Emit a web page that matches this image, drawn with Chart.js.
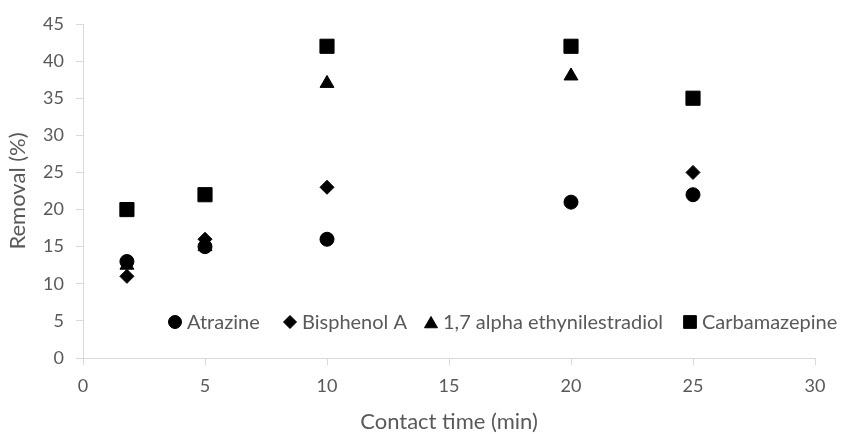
<!DOCTYPE html>
<html>
<head>
<meta charset="utf-8">
<script src="https://cdn.jsdelivr.net/npm/chart.js@4"></script>
<style>
  html, body { margin: 0; padding: 0; background: #fff; }
  #wrap { width: 841px; height: 434px; }
</style>
</head>
<body>
<div id="wrap"><canvas id="myChart" width="841" height="434"></canvas></div>
<script>
// data
const seriesNames = ["Atrazine", "Bisphenol A", "1,7 alpha ethynilestradiol", "Carbamazepine"];
const atrazineX = [1.8, 5, 10, 20, 25];
const atrazineY = [13, 15, 16, 21, 22];
const bisphenolX = [1.8, 5, 10, 25];
const bisphenolY = [11, 16, 23, 25];
const estradiolX = [1.8, 5, 10, 20];
const estradiolY = [12.5, 15, 37, 38];
const carbamazepineX = [1.8, 5, 10, 20, 25];
const carbamazepineY = [20, 22, 42, 42, 35];
const xTicks = [0, 5, 10, 15, 20, 25, 30];
const yTicks = [0, 5, 10, 15, 20, 25, 30, 35, 40, 45];

const grey = "#595959";
const axisGrey = "#d9d9d9";
const fontName = "Lato, 'Liberation Sans', sans-serif";

function pts(xs, ys) {
    let out = [];
    for (let i = 0; i < xs.length; i++) {
        out.push({ x: xs[i], y: ys[i] });
    }
    return out;
}

const styles = ["circle", "rectRot", "triangle", "rect"];
const radii = [7, 7, 8, 10];
const legendRadii = [6.5, 6.5, 7.5, 9];

// legend sits inside the plot, like the excel one
const insideLegend = {
    id: "insideLegend",
    afterDraw(chart) {
        const ctx = chart.ctx;
        const y = 322;
        const items = [175, 290, 431, 690];
        ctx.save();
        ctx.font = "20px " + fontName;
        ctx.textBaseline = "middle";
        for (let i = 0; i < items.length; i++) {
            ctx.fillStyle = "#000";
            ctx.strokeStyle = "#000";
            ctx.lineWidth = 1;
            Chart.helpers.drawPoint(ctx, { pointStyle: styles[i], radius: legendRadii[i], borderWidth: 1 }, items[i], y + (styles[i] == "triangle" ? 2 : 0));
            ctx.fillStyle = grey;
            ctx.fillText(seriesNames[i], items[i] + 12, y + 1);
        }
        ctx.restore();
    }
};

const xs = [atrazineX, bisphenolX, estradiolX, carbamazepineX];
const ys = [atrazineY, bisphenolY, estradiolY, carbamazepineY];
let datasets = [];
for (let i = 0; i < 4; i++) {
    datasets.push({
        label: seriesNames[i],
        data: pts(xs[i], ys[i]),
        pointStyle: styles[i],
        pointRadius: radii[i],
        pointHoverRadius: radii[i],
        backgroundColor: "#000",
        borderColor: "#000",
        borderWidth: 1
    });
}

const ctx = document.getElementById("myChart");
new Chart(ctx, {
    type: "scatter",
    data: { datasets: datasets },
    plugins: [insideLegend],
    options: {
        responsive: false,
        animation: false,
        layout: { padding: { top: 24, right: 26, left: 0, bottom: 0 } },
        plugins: {
            legend: { display: false },
            tooltip: { enabled: false }
        },
        scales: {
            x: {
                type: "linear",
                min: 0,
                max: 30,
                afterBuildTicks: (axis) => { axis.ticks = xTicks.map(v => ({ value: v })); },
                afterFit: (axis) => { axis.height = 76; },
                grid: { drawOnChartArea: false, drawTicks: true, tickLength: 7, color: axisGrey },
                border: { color: axisGrey, width: 1 },
                ticks: { color: grey, font: { family: fontName, size: 18 }, padding: 10 },
                title: { display: true, text: "Contact time (min)", color: grey, font: { family: fontName, size: 22, lineHeight: 1.1 }, padding: { top: 0, bottom: 0 } }
            },
            y: {
                type: "linear",
                min: 0,
                max: 45,
                afterBuildTicks: (axis) => { axis.ticks = yTicks.map(v => ({ value: v })); },
                afterFit: (axis) => { axis.width = 83; },
                grid: { drawOnChartArea: false, drawTicks: true, tickLength: 7, color: axisGrey },
                border: { color: axisGrey, width: 1 },
                ticks: { color: grey, font: { family: fontName, size: 18 }, padding: 12 },
                title: { display: true, text: "Removal (%)", color: grey, font: { family: fontName, size: 22, lineHeight: 1.1 }, padding: { top: 6, bottom: 0 } }
            }
        }
    }
});
</script>
</body>
</html>
